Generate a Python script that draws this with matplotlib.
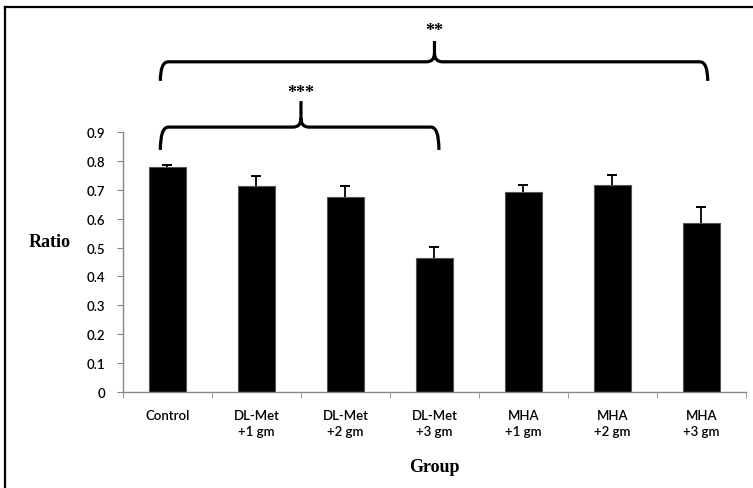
import matplotlib
matplotlib.use('Agg')
import matplotlib.pyplot as plt
from matplotlib.path import Path
from matplotlib.patches import PathPatch
from matplotlib.lines import Line2D
import numpy as np

# data
groups = ['Control', 'DL-Met\n+1 gm', 'DL-Met\n+2 gm', 'DL-Met\n+3 gm',
          'MHA\n+1 gm', 'MHA\n+2 gm', 'MHA\n+3 gm']
ratio = [0.778, 0.714, 0.675, 0.463, 0.691, 0.716, 0.585]
ratio_err = [0.009, 0.034, 0.037, 0.039, 0.026, 0.035, 0.055]
y_ticks = [0, 0.1, 0.2, 0.3, 0.4, 0.5, 0.6, 0.7, 0.8, 0.9]

tick_font = 'Lato'
serif_font = 'Liberation Serif'

fig = plt.figure(figsize=(7.53, 4.89), dpi=100)
ax = fig.add_axes([0.1633, 0.1963, 0.8274, 0.5317])

x = np.arange(len(groups))
ratio = np.array(ratio)
ratio_err = np.array(ratio_err)
ax.bar(x, ratio, width=0.41, color='black', edgecolor='#555555', linewidth=0.8, zorder=2)
# plus-only error bars (Excel style)
ax.errorbar(x, ratio, yerr=[np.zeros(len(ratio)), ratio_err], fmt='none',
            ecolor='black', elinewidth=1.3, capsize=0, zorder=3)
ax.plot(x, ratio + ratio_err, linestyle='none', marker='_', markersize=7.5,
        markeredgewidth=1.4, color='black', zorder=3)

ax.set_xlim(-0.5, len(groups) - 0.5)
ax.set_ylim(0, 0.9)
ax.set_yticks(y_ticks)
ax.set_yticklabels(['0' if v == 0 else f'{v:.1f}' for v in y_ticks],
                   fontfamily=tick_font, fontsize=9.5, fontweight='semibold')
ax.set_xticks(x)
ax.set_xticklabels(groups, fontfamily=tick_font, fontsize=9.5, fontweight='semibold',
                   linespacing=1.45)
ax.set_xticks(np.arange(-0.5, len(groups)), minor=True)
ax.tick_params(axis='x', which='major', length=0, pad=12)
ax.tick_params(axis='x', which='minor', length=4, color='#888888', direction='out')
ax.tick_params(axis='y', length=4, color='#888888', direction='out', pad=9)

for side in ['top', 'right']:
    ax.spines[side].set_visible(False)
for side in ['left', 'bottom']:
    ax.spines[side].set_color('#888888')
    ax.spines[side].set_linewidth(1.0)

ax.set_ylabel('Ratio', fontfamily=serif_font, fontweight='bold', fontsize=13,
              rotation=0, labelpad=0)
ax.yaxis.set_label_coords(-0.118, 0.545)
ax.set_xlabel('Group', fontfamily=serif_font, fontweight='bold', fontsize=13, labelpad=15)


def brace(x0, x1, xm, y_end, y_bar, y_tip, rx=0.09, ry=0.03):
    verts = [(x0, y_end), (x0, y_bar), (x0 + rx, y_bar), (xm - rx, y_bar),
             (xm, y_bar), (xm, y_bar + ry), (xm, y_tip)]
    codes = [Path.MOVETO, Path.CURVE3, Path.CURVE3, Path.LINETO,
             Path.CURVE3, Path.CURVE3, Path.LINETO]
    verts += [(x1, y_end), (x1, y_bar), (x1 - rx, y_bar), (xm + rx, y_bar),
              (xm, y_bar), (xm, y_bar + ry)]
    codes += [Path.MOVETO, Path.CURVE3, Path.CURVE3, Path.LINETO,
              Path.CURVE3, Path.CURVE3]
    patch = PathPatch(Path(verts, codes), facecolor='none', edgecolor='black',
                      linewidth=2.3, clip_on=False, capstyle='butt', joinstyle='round')
    ax.add_patch(patch)


# Control vs DL-Met +3 gm
brace(-0.08, 3.05, 1.5, 0.838, 0.917, 1.007)
ax.text(1.5, 1.038, '***', ha='center', va='center', fontsize=13, fontweight='bold',
        fontfamily=serif_font, clip_on=False)
# Control vs MHA +3 gm
brace(-0.08, 6.07, 3.0, 1.077, 1.143, 1.215)
ax.text(3.0, 1.252, '**', ha='center', va='center', fontsize=13, fontweight='bold',
        fontfamily=serif_font, clip_on=False)

# outer frame (left and top edges only visible)
fig.add_artist(Line2D([0.0066, 0.0066], [0.0, 0.9836], color='black', linewidth=1.6))
fig.add_artist(Line2D([0.0066, 1.0], [0.9836, 0.9836], color='black', linewidth=1.6))

fig.savefig('out.png', dpi=100, facecolor='white')
